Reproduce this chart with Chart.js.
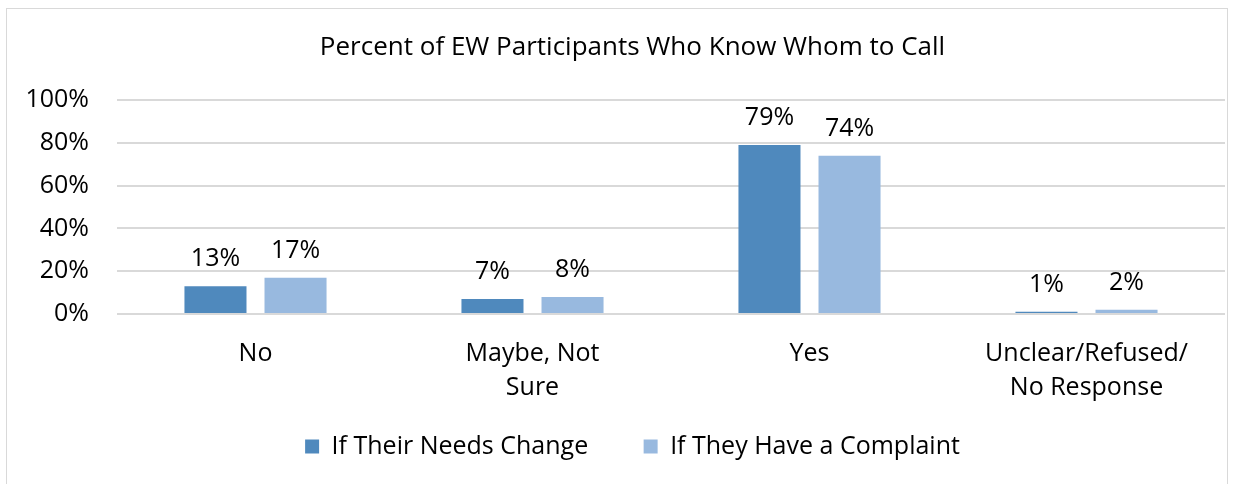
<!DOCTYPE html>
<html>
<head>
<meta charset="utf-8">
<script src="https://cdn.jsdelivr.net/npm/chart.js@4/dist/chart.umd.min.js"></script>
<style>
  html, body { margin: 0; padding: 0; background: #fff; overflow: hidden; }
  #frame { position: absolute; left: 6px; top: 8px; width: 1220px; height: 520px; border: 1px solid #d9d9d9; }
  #chart { position: absolute; left: 0; top: 0; }
</style>
</head>
<body>
<div id="frame"></div>
<canvas id="chart" width="1265" height="484"></canvas>
<script>
// 차트 데이터
const categories = ['No', ['Maybe, Not', 'Sure'], 'Yes', ['Unclear/Refused/', 'No Response']];
const needsChange = [13, 7, 79, 1];
const complaint = [17, 8, 74, 2];
const yTicks = [0, 20, 40, 60, 80, 100];

const FONT = "'Open Sans', sans-serif";
const SIZE = 25;

// 막대 위 값 표시
const valueLabels = {
    id: 'valueLabels',
    afterDatasetsDraw(chart) {
        const ctx = chart.ctx;
        ctx.save();
        ctx.font = SIZE + 'px ' + FONT;
        ctx.fillStyle = '#000';
        ctx.textAlign = 'center';
        ctx.textBaseline = 'middle';
        chart.data.datasets.forEach((ds, i) => {
            chart.getDatasetMeta(i).data.forEach((bar, j) => {
                ctx.fillText(ds.data[j] + '%', bar.x, bar.y - 27);
            });
        });
        ctx.restore();
    }
};

new Chart(document.getElementById('chart').getContext('2d'), {
    type: 'bar',
    data: {
        labels: categories,
        datasets: [
            {
                label: 'If Their Needs Change',
                data: needsChange,
                backgroundColor: '#4f89bd'
            },
            {
                label: 'If They Have a Complaint',
                data: complaint,
                backgroundColor: '#98b9df'
            }
        ]
    },
    options: {
        responsive: false,
        animation: false,
        devicePixelRatio: 1,
        categoryPercentage: 0.578,
        barPercentage: 0.775,
        layout: { padding: { top: 0, right: 0, bottom: 15, left: 0 } },
        scales: {
            x: {
                grid: { display: false },
                border: { display: false },
                ticks: {
                    color: '#000',
                    font: { family: FONT, size: SIZE, lineHeight: 1.36 },
                    padding: 15,
                    maxRotation: 0,
                    autoSkip: false
                },
                afterFit: (scale) => { scale.height = 110; }
            },
            y: {
                min: 0,
                max: 100,
                afterBuildTicks: (scale) => { scale.ticks = yTicks.map(v => ({ value: v })); },
                grid: { color: '#d9d9d9', lineWidth: 2, drawTicks: false },
                border: { display: false },
                ticks: {
                    color: '#000',
                    font: { family: FONT, size: SIZE },
                    padding: 28,
                    callback: (v) => v + '%'
                },
                afterFit: (scale) => { scale.width = 117; }
            },
            // 오른쪽 여백용 빈 축
            yRight: {
                position: 'right',
                grid: { display: false },
                border: { display: false },
                ticks: { display: false },
                afterFit: (scale) => { scale.width = 40; }
            }
        },
        plugins: {
            title: {
                display: true,
                text: 'Percent of EW Participants Who Know Whom to Call',
                color: '#000',
                font: { family: FONT, size: 26, weight: 'normal' },
                padding: { top: 32, bottom: 37 }
            },
            legend: {
                position: 'bottom',
                labels: {
                    color: '#000',
                    font: { family: FONT, size: SIZE },
                    boxWidth: 14,
                    boxHeight: 14,
                    padding: 10,
                    // 항목 사이 간격
                    generateLabels: (chart) => {
                        const items = Chart.defaults.plugins.legend.labels.generateLabels(chart);
                        return items.map((it, i) => {
                            if (i < items.length - 1) it.text = it.text + '       ';
                            return it;
                        });
                    }
                }
            },
            tooltip: { enabled: false }
        }
    },
    plugins: [valueLabels]
});
</script>
</body>
</html>
